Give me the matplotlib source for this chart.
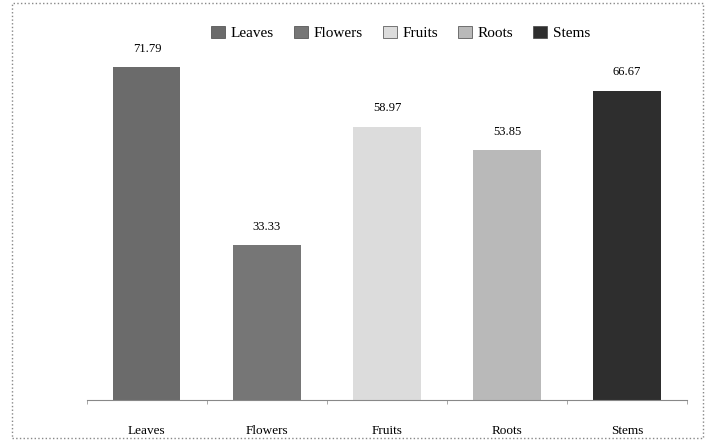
import matplotlib
matplotlib.use("Agg")
import matplotlib.pyplot as plt
from matplotlib.patches import Rectangle, Patch

# ── data ─────────────────────────────────────────────────────────────────────
categories = ["Leaves", "Flowers", "Fruits", "Roots", "Stems"]
values = [71.79, 33.33, 58.97, 53.85, 66.67]
colors = ["#6b6b6b", "#767676", "#dcdcdc", "#b9b9b9", "#2e2e2e"]

plt.rcParams["font.family"] = ["Liberation Serif", "DejaVu Serif"]

fig = plt.figure(figsize=(7.12, 4.41), dpi=100)
ax = fig.add_axes([0.122, 0.093, 0.843, 0.841])

x = range(len(categories))
bars = ax.bar(x, values, width=0.56, color=colors, edgecolor="none")

for b, v in zip(bars, values):
    ax.annotate(f"{v:.2f}", (b.get_x() + b.get_width() / 2, v),
                xytext=(0, 9), textcoords="offset points",
                ha="center", va="bottom", fontsize=9)

ax.set_xlim(-0.5, 4.5)
ax.set_ylim(0, 80)
ax.set_xticks(list(x))
ax.set_xticklabels(categories, fontsize=9.5)
ax.tick_params(axis="x", length=0, pad=18)
ax.set_xticks([i + 0.5 for i in range(-1, 5)], minor=True)
ax.tick_params(axis="x", which="minor", length=3, color="#999999")
ax.set_yticks([])
for side in ["top", "right", "left"]:
    ax.spines[side].set_visible(False)
ax.spines["bottom"].set_color("#888888")
ax.spines["bottom"].set_linestyle((0, (2, 1)))
ax.spines["bottom"].set_linewidth(0.8)

handles = [Patch(facecolor=c, edgecolor="#444444", linewidth=0.5) for c in colors]
fig.legend(handles, categories, loc="center", bbox_to_anchor=(0.563, 0.925),
           ncol=5, frameon=False, fontsize=11, handlelength=0.9,
           handleheight=0.9, handletextpad=0.4, columnspacing=1.3)

# dotted frame around the whole chart
fig.patches.append(Rectangle((0.017, 0.006), 0.97, 0.988, transform=fig.transFigure,
                             fill=False, edgecolor="#888888", linestyle=":",
                             linewidth=1.0))

fig.savefig("out.png", dpi=100)
